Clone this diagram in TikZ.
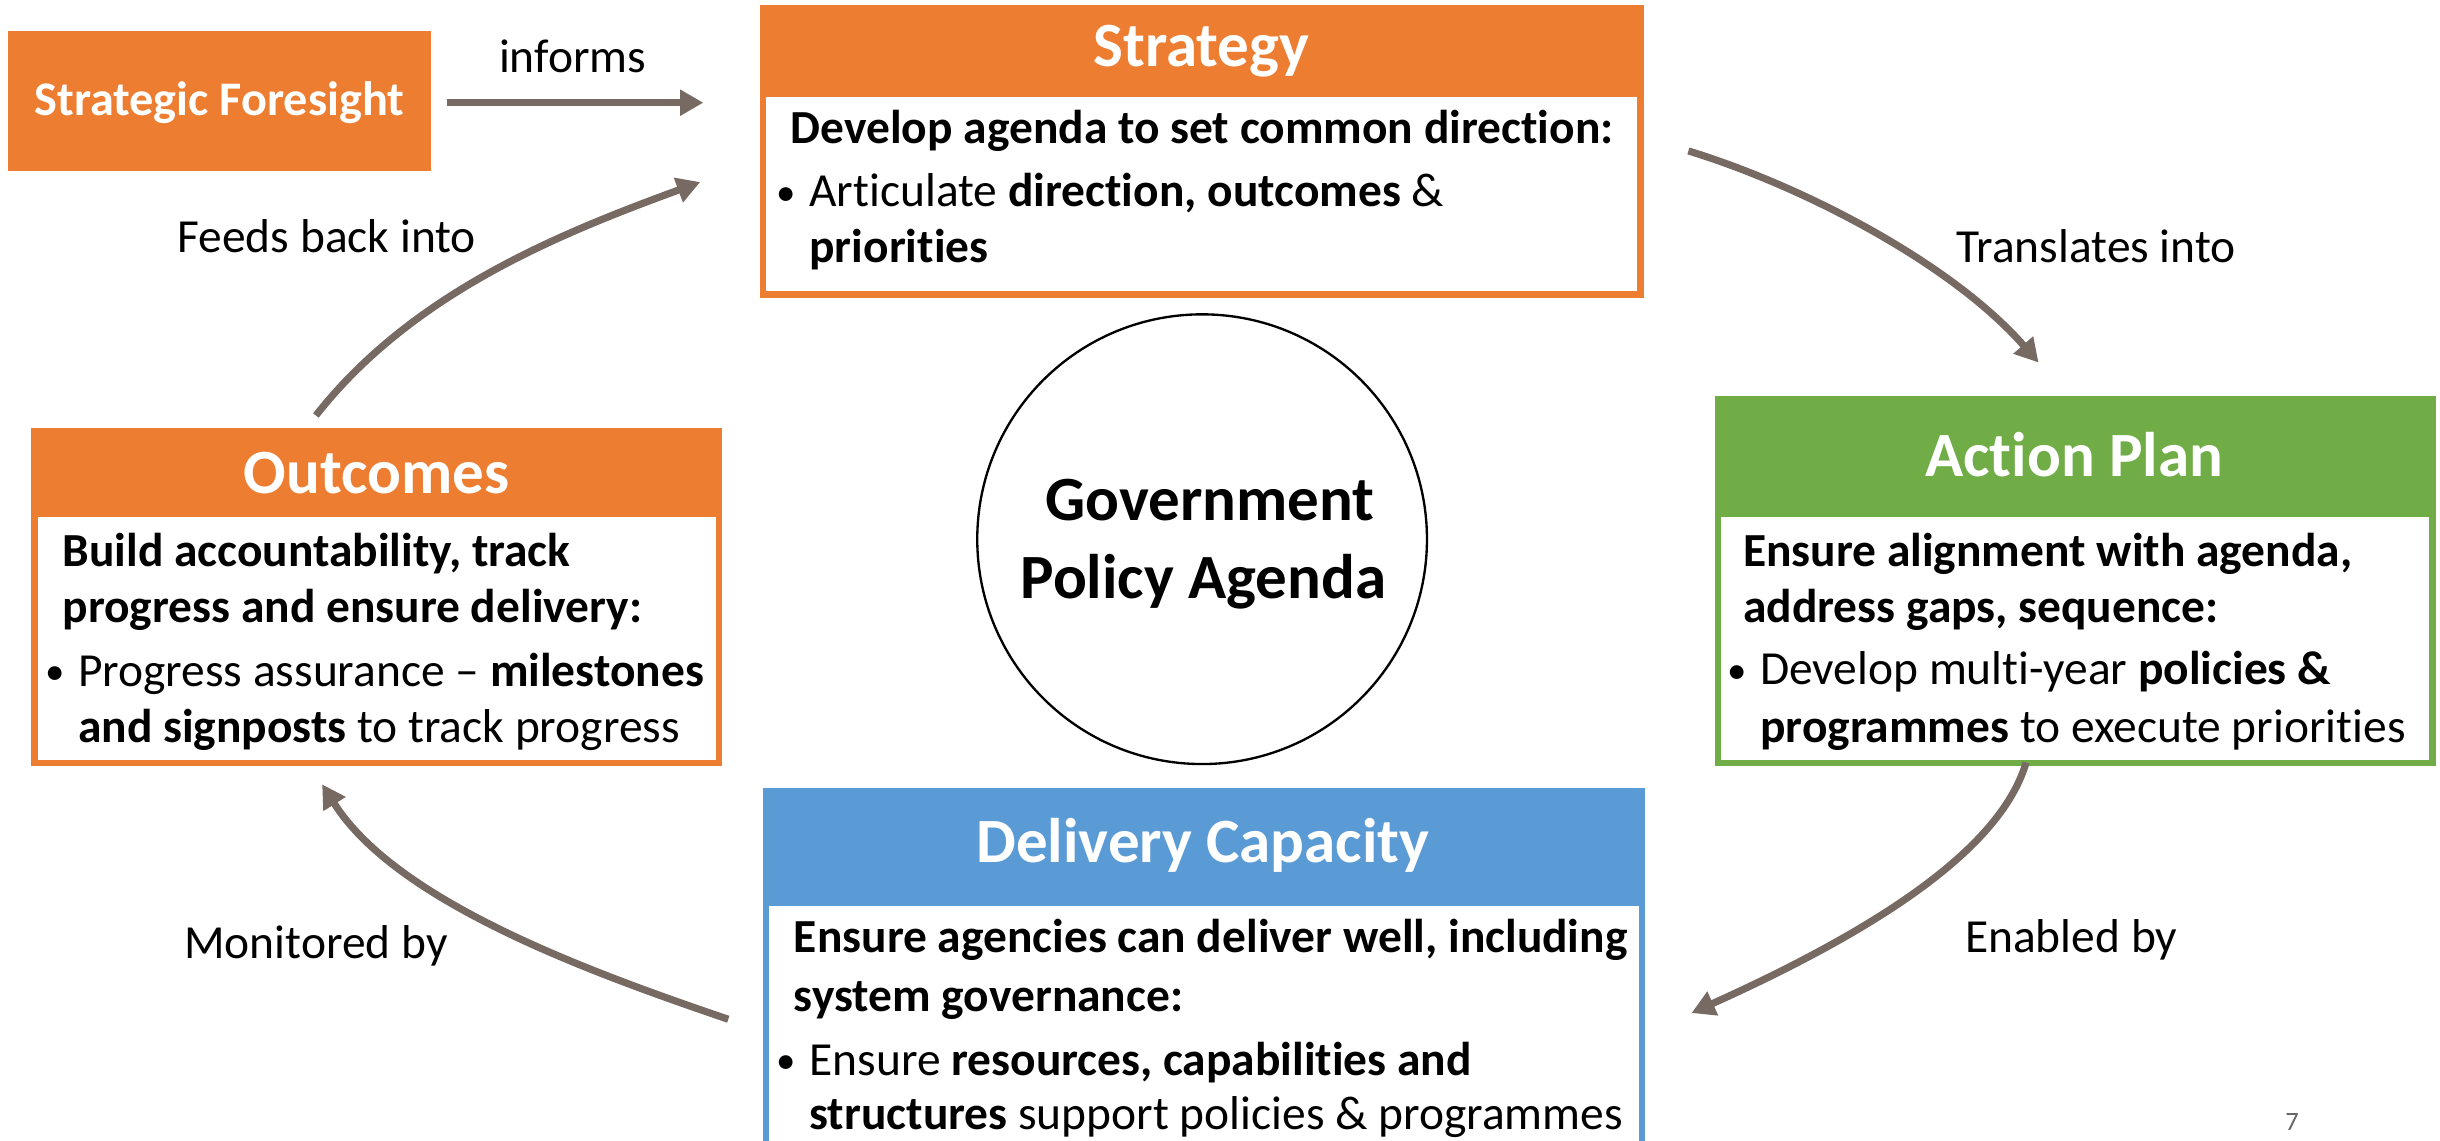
\documentclass[tikz,border=0pt]{standalone}
\usepackage{fontspec}
\setmainfont{Carlito}[Ligatures={NoCommon,NoContextual}]
\usetikzlibrary{arrows.meta}
\definecolor{corange}{HTML}{ED7D31}
\definecolor{cgreen}{HTML}{70AD47}
\definecolor{cblue}{HTML}{5B9BD5}
\definecolor{carrow}{HTML}{776A62}
\newcommand{\bul}{\makebox[21pt][l]{\raisebox{1pt}{\fontsize{25}{25}\selectfont\textbullet}}}
\begin{document}
\begin{tikzpicture}[x=1pt,y=-1pt,
  titletext/.style={text=white,font=\fontsize{40.5}{46}\selectfont\bfseries},
  bodytext/.style={anchor=base west,inner sep=0pt,font=\fontsize{30.5}{36}\selectfont},
  lbl/.style={inner sep=0pt,font=\fontsize{30.5}{36}\selectfont},
  flow/.style={draw=carrow,line width=4.6pt,-{Triangle[length=15pt,width=16pt]}}]
\useasboundingbox (0,0) rectangle (1568,733.2);
\clip (0,0) rectangle (1568,733.2);
% Strategic Foresight
\node[fill=corange,anchor=north west,inner sep=0pt,minimum width=272pt,minimum height=90pt] (sf) at (5,20) {};
\node[text=white,font=\fontsize{31}{36}\selectfont\bfseries] (sftext) at (141,66) {Strategic Foresight};
% Strategy
\node[fill=corange,anchor=north west,inner sep=0pt,minimum width=568pt,minimum height=188pt] (strat) at (488,3) {};
\node[fill=white,anchor=north west,inner sep=0pt,minimum width=560pt,minimum height=125pt] (stratbody) at (492,62) {};
\node[titletext] (strattitle) at (772,33) {Strategy};
\node[bodytext] (s1) at (508,92) {\textbf{Develop agenda to set common direction:}};
\node[bodytext] (s2) at (499,133) {\bul Articulate \textbf{direction, outcomes} \&};
\node[bodytext] (s3) at (520,169) {\textbf{priorities}};
% Action Plan
\node[fill=cgreen,anchor=north west,inner sep=0pt,minimum width=463pt,minimum height=238pt] (ap) at (1102,254) {};
\node[fill=white,anchor=north west,inner sep=0pt,minimum width=455pt,minimum height=156pt] (apbody) at (1106,332) {};
\node[titletext] (aptitle) at (1333,292) {Action Plan};
\node[bodytext] (a1) at (1120,364) {\textbf{Ensure alignment with agenda,}};
\node[bodytext] (a2) at (1120,400) {\textbf{address gaps, sequence:}};
\node[bodytext] (a3) at (1110,440) {\bul Develop multi-year \textbf{policies \&}};
\node[bodytext] (a4) at (1131,477) {\textbf{programmes} to execute priorities};
% Outcomes
\node[fill=corange,anchor=north west,inner sep=0pt,minimum width=444pt,minimum height=217pt] (oc) at (20,275) {};
\node[fill=white,anchor=north west,inner sep=0pt,minimum width=436pt,minimum height=156pt] (ocbody) at (24,332) {};
\node[titletext] (octitle) at (242,304) {Outcomes};
\node[bodytext] (o1) at (40,364) {\textbf{Build accountability, track}};
\node[bodytext] (o2) at (40,400) {\textbf{progress and ensure delivery:}};
\node[bodytext] (o3) at (29,441) {\bul Progress assurance – \textbf{milestones}};
\node[bodytext] (o4) at (50,477) {\textbf{and signposts} to track progress};
% Delivery Capacity
\node[fill=cblue,anchor=north west,inner sep=0pt,minimum width=567pt,minimum height=240pt] (dc) at (490,506) {};
\node[fill=white,anchor=north west,inner sep=0pt,minimum width=559pt,minimum height=170pt] (dcbody) at (494,582) {};
\node[titletext] (dctitle) at (773,543) {Delivery Capacity};
\node[bodytext] (d1) at (510,612) {\textbf{Ensure agencies can deliver well, including}};
\node[bodytext] (d2) at (510,650) {\textbf{system governance:}};
\node[bodytext] (d3) at (499,691) {\bul Ensure \textbf{resources, capabilities and}};
\node[bodytext] (d4) at (520,726) {\textbf{structures} support policies \& programmes};
% Centre circle
\node[draw=black,line width=1.5pt,circle,minimum size=289pt,inner sep=0pt] (gpa) at (772.5,346.5) {};
\node[anchor=base,inner sep=0pt,font=\fontsize{40.5}{48}\selectfont\bfseries] (gpa1) at (777.5,334.6) {Government};
\node[anchor=base,inner sep=0pt,font=\fontsize{40.5}{48}\selectfont\bfseries] (gpa2) at (773.3,384.5) {Policy Agenda};
% arrow end points
\coordinate (i0) at (287,66); \coordinate (i1) at (452,66);
\coordinate (f0) at (203,267); \coordinate (f1) at (450,117);
\coordinate (t0) at (1085,97); \coordinate (t1) at (1310,233);
\coordinate (e0) at (1302,490); \coordinate (e1) at (1087,651);
\coordinate (m0) at (468,655); \coordinate (m1) at (207,504);
\draw[flow] (i0) -- (i1);
\draw[flow] (f0) .. controls (265,188) and (360,150) .. (f1);
\draw[flow] (t0) .. controls (1160,120) and (1255,170) .. (t1);
\draw[flow] (e0) .. controls (1285,548) and (1200,600) .. (e1);
\draw[flow] (m0) .. controls (380,625) and (255,580) .. (m1);
% labels
\node[lbl] (linforms) at (368,36) {informs};
\node[lbl] (lfeeds) at (210,152) {Feeds back into};
\node[lbl] (ltrans) at (1347,158) {Translates into};
\node[lbl] (lenabled) at (1331,604) {Enabled by};
\node[lbl] (lmon) at (203,608) {Monitored by};
\node[text=black!60,font=\fontsize{17}{20}\selectfont] (pgnum) at (1473,721) {7};
\end{tikzpicture}
\end{document}
